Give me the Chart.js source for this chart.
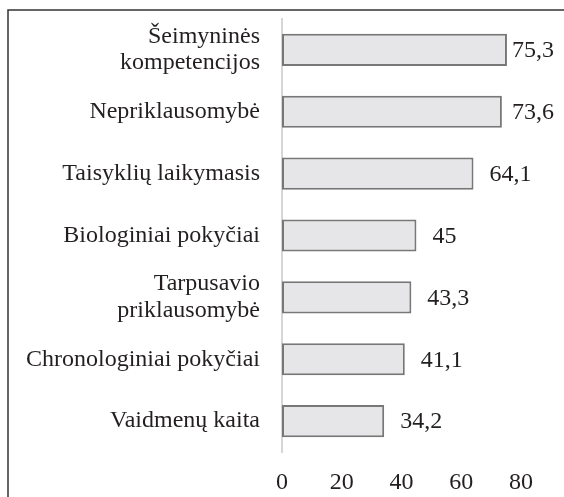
<!DOCTYPE html>
<html>
<head>
<meta charset="utf-8">
<script src="https://cdn.jsdelivr.net/npm/chart.js@4/dist/chart.umd.min.js"></script>
<style>
    html, body { margin: 0; padding: 0; background: #fff; }
    #wrap { width: 564px; height: 497px; position: relative; }
</style>
</head>
<body>
<div id="wrap"><canvas id="chart"></canvas></div>
<script>
// Category labels (multi-line where the original wraps)
const categories = [
    ['Šeimyninės', 'kompetencijos'],
    'Nepriklausomybė',
    'Taisyklių laikymasis',
    'Biologiniai pokyčiai',
    ['Tarpusavio', 'priklausomybė'],
    'Chronologiniai pokyčiai',
    'Vaidmenų kaita'
];
const values = [75.3, 73.6, 64.1, 45, 43.3, 41.1, 34.2];
const xTicks = [0, 20, 40, 60, 80];

const textColor = '#231f20';
const fontFamily = '"Liberation Serif", "Times New Roman", serif';

// Frame lines round the picture (left and top edges)
const framePlugin = {
    id: 'frame',
    beforeDraw(chart) {
        const ctx = chart.ctx;
        ctx.save();
        ctx.strokeStyle = '#333';
        ctx.lineWidth = 1.5;
        ctx.beginPath();
        ctx.moveTo(8, chart.height);
        ctx.lineTo(8, 10);
        ctx.lineTo(chart.width, 10);
        ctx.stroke();
        ctx.restore();
    }
};

// Value labels to the right of each bar
const valueLabels = {
    id: 'valueLabels',
    afterDatasetsDraw(chart) {
        const ctx = chart.ctx;
        const meta = chart.getDatasetMeta(0);
        ctx.save();
        ctx.font = '24px ' + fontFamily;
        ctx.fillStyle = textColor;
        ctx.textBaseline = 'middle';
        meta.data.forEach((bar, i) => {
            const text = String(values[i]).replace('.', ',');
            const w = ctx.measureText(text).width;
            let x = bar.x + 16;
            if (x + w > chart.width - 10) x = chart.width - 10 - w;
            ctx.fillText(text, x, bar.y + 1);
        });
        ctx.restore();
    }
};

new Chart(document.getElementById('chart'), {
    type: 'bar',
    data: {
        labels: categories,
        datasets: [{
            data: values,
            backgroundColor: '#e6e6e8',
            borderColor: '#777777',
            borderWidth: 2,
            borderSkipped: false,
            categoryPercentage: 1,
            barPercentage: 0.52
        }]
    },
    options: {
        indexAxis: 'y',
        responsive: true,
        maintainAspectRatio: false,
        animation: false,
        layout: {
            padding: { top: 19, right: 43, bottom: 0, left: 0 }
        },
        plugins: {
            legend: { display: false },
            tooltip: { enabled: false }
        },
        scales: {
            x: {
                min: 0,
                max: 80,
                afterBuildTicks: scale => {
                    scale.ticks = xTicks.map(v => ({ value: v }));
                },
                afterFit: scale => {
                    scale.height = 45;
                    scale.paddingLeft = 0;
                    scale.paddingRight = 0;
                },
                grid: { display: false, drawTicks: false },
                border: { display: false },
                ticks: {
                    color: textColor,
                    padding: 16,
                    font: { family: fontFamily, size: 24 }
                }
            },
            y: {
                afterFit: scale => {
                    scale.width = 282;
                    scale.paddingTop = 0;
                    scale.paddingBottom = 0;
                },
                grid: { display: false, drawTicks: false },
                border: { display: true, color: '#d6d6d6', width: 2 },
                ticks: {
                    color: textColor,
                    padding: 22,
                    font: { family: fontFamily, size: 24, lineHeight: 1.1 }
                }
            }
        }
    },
    plugins: [framePlugin, valueLabels]
});
</script>
</body>
</html>
